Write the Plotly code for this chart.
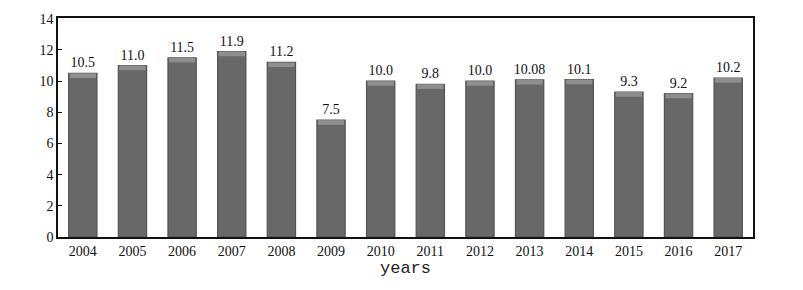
import plotly.graph_objects as go

years = ["2004", "2005", "2006", "2007", "2008", "2009", "2010",
         "2011", "2012", "2013", "2014", "2015", "2016", "2017"]
values = [10.5, 11.0, 11.5, 11.9, 11.2, 7.5, 10.0, 9.8, 10.0, 10.08, 10.1, 9.3, 9.2, 10.2]
labels = ["10.5", "11.0", "11.5", "11.9", "11.2", "7.5", "10.0", "9.8", "10.0",
          "10.08", "10.1", "9.3", "9.2", "10.2"]

cap = 0.3
serif = "Liberation Serif, DejaVu Serif, serif"

fig = go.Figure()
fig.add_trace(go.Bar(
    x=years, y=values, width=0.57,
    marker=dict(color="#686868", line=dict(color="#545454", width=1.2)),
    text=labels, textposition="outside", cliponaxis=False,
    constraintext="none", textangle=0,
    outsidetextfont=dict(family=serif, size=14, color="#111"),
    hoverinfo="x+y",
))
fig.add_trace(go.Bar(
    x=years, y=[cap] * len(values), base=[v - cap for v in values], width=0.53,
    marker=dict(color="#8e8e8e", line=dict(width=0)),
    hoverinfo="skip",
))
fig.update_layout(
    width=803, height=290, barmode="overlay", showlegend=False,
    margin=dict(l=58, r=50, t=14, b=53),
    plot_bgcolor="white", paper_bgcolor="white",
    font=dict(family=serif, size=14, color="#111"),
)
fig.update_xaxes(
    showline=True, linecolor="#111", linewidth=1.5, mirror=True,
    ticks="", tickfont=dict(family=serif, size=14), showgrid=False,
    title=dict(text="years", font=dict(family="Liberation Mono, DejaVu Sans Mono, monospace", size=17, color="#222"), standoff=2),
)
fig.update_yaxes(
    range=[0, 14.05], tickvals=[0, 2, 4, 6, 8, 10, 12, 14],
    showline=True, linecolor="#111", linewidth=1.5, mirror=True,
    ticks="inside", ticklen=4, tickcolor="#111", showgrid=False, zeroline=False,
    tickfont=dict(family=serif, size=14),
)
fig.write_html("out.html")
